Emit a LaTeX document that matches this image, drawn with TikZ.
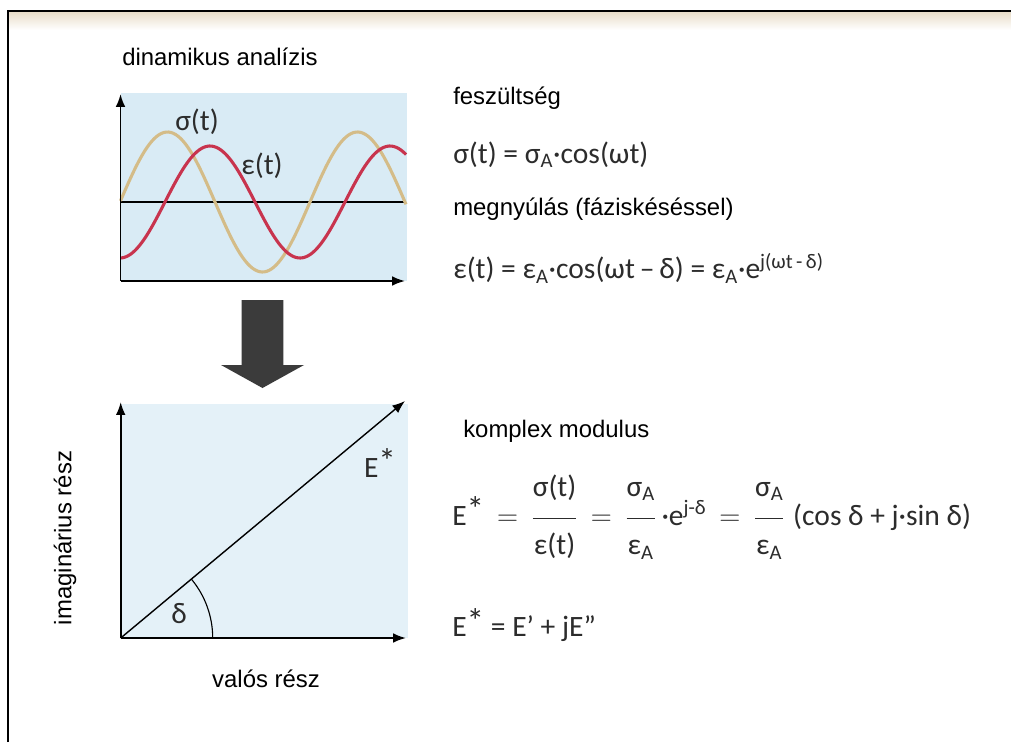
\documentclass[tikz,border=0pt]{standalone}
\usepackage{fontspec}
\usepackage{amsmath}
\setmainfont{Liberation Sans}
\newfontfamily\eqfont{Carlito}
\usetikzlibrary{arrows.meta,positioning,calc}
\definecolor{plotbg}{HTML}{D9EBF5}
\definecolor{plotbgb}{HTML}{E4F1F8}
\definecolor{sigcol}{HTML}{D4BC88}
\definecolor{epscol}{HTML}{C8344E}
\definecolor{eqcol}{HTML}{2C2C2C}
\definecolor{bigarrow}{HTML}{3B3B3B}
\definecolor{scanband}{HTML}{E9DDC9}
\newcommand{\numup}{\rule[-0.6em]{0pt}{0pt}}
\newcommand{\dendown}{\rule{0pt}{1.1em}}
\newcommand{\sstar}{\raisebox{0.12em}{\fontsize{25}{25}\selectfont *}}
\tikzset{
 lbl/.style={font=\fontsize{17}{20}\selectfont,inner sep=0pt,anchor=west},
 eqn/.style={font=\eqfont\fontsize{21}{25}\selectfont,text=eqcol,inner sep=0pt,anchor=west},
 axis/.style={-{Latex[length=3.2mm,width=2.4mm]},line width=1.3pt},
 curve/.style={line width=2.2pt,smooth,samples=120}
}
\begin{document}
\begin{tikzpicture}[x=0.025cm,y=-0.025cm]
\useasboundingbox (0,0) rectangle (1011,742);
\fill[white] (0,0) rectangle (1011,742);
\shade[top color=scanband,bottom color=white] (9,12) rectangle (1011,30);
\draw[line width=1.5pt] (8,742) -- (8,11) -- (1011,11);

% upper plot: sigma and epsilon
\fill[plotbg] (121,93) rectangle (407,281);
\coordinate (o1) at (120.5,281);
\coordinate (y1) at (120.5,94);
\coordinate (x1) at (405,281);
\draw[line width=1pt] (120.5,202) coordinate (z0) -- (406,202) coordinate (z1);
\draw[sigcol,curve] plot[domain=120.5:406] (\x,{202-70*sin((\x-120)*1.8947)});
\draw[epscol,curve] plot[domain=120.5:406] (\x,{202-56*cos((\x-210)*2)});
\draw[axis] (o1) -- (y1);
\draw[axis] (o1) -- (x1);
\node[eqn,anchor=center] (siglab) at (197,122) {σ(t)};
\node[eqn,anchor=center] (epslab) at (262,166) {ε(t)};

% big arrow
\fill[bigarrow] (241.7,300) -- (283.3,300) -- (283.3,365) -- (304,365)
  -- (262.5,388) -- (221,365) -- (241.7,365) -- cycle;

% lower plot: complex plane
\fill[plotbgb] (121,404) rectangle (408,638);
\coordinate (o2) at (120.7,638);
\coordinate (y2) at (120.7,402);
\coordinate (x2) at (406,638);
\coordinate (e2) at (405,401);
\draw[axis] (o2) -- (y2);
\draw[axis] (o2) -- (x2);
\draw[-{Latex[length=3.2mm,width=2.4mm]},line width=1pt] (o2) -- (e2);
\draw[line width=0.8pt] ($(o2)+(92,0)$) arc[start angle=0,end angle=39.7,radius=2.3cm];
\node[eqn,anchor=center] (estar) at (380,463) {E\sstar};
\node[eqn,anchor=center] (delta) at (179,614) {δ};
\node[lbl,anchor=center] (real) at (266,679) {valós rész};
\node[lbl,anchor=center,rotate=90] (imag) at (65,538) {imaginárius rész};

% headings and equations
\node[lbl] (dyn) at (122,57) {dinamikus analízis};
\node[lbl] (stress) at (453,98) {feszültség};
\node[eqn] (sigeq) at (453,155) {σ(t) = σ$_\text{A}$·cos(ωt)};
\node[lbl] (strain) at (453,209) {megnyúlás (fáziskéséssel)};
\node[eqn] (epseq) at (453,268) {ε(t) = ε$_\text{A}$·cos(ωt\,–\,δ) = ε$_\text{A}$·e$^\text{j(ωt\,-\,δ)}$};
\node[lbl] (cplx) at (463,431) {komplex modulus};
\node[eqn] (modeq) at (452,517) {$\text{E\sstar} \,=\, \dfrac{\numup\text{σ(t)}}{\dendown\text{ε(t)}} \,=\, \dfrac{\numup\text{σ}_\text{A}}{\dendown\text{ε}_\text{A}}\,\text{·e}^{\text{j-δ}} \,=\, \dfrac{\numup\text{σ}_\text{A}}{\dendown\text{ε}_\text{A}}\;\text{(cos δ + j·sin δ)}$};
\node[eqn] (parts) at (452,625) {E\sstar\ = E’ + jE”};
\end{tikzpicture}
\end{document}
